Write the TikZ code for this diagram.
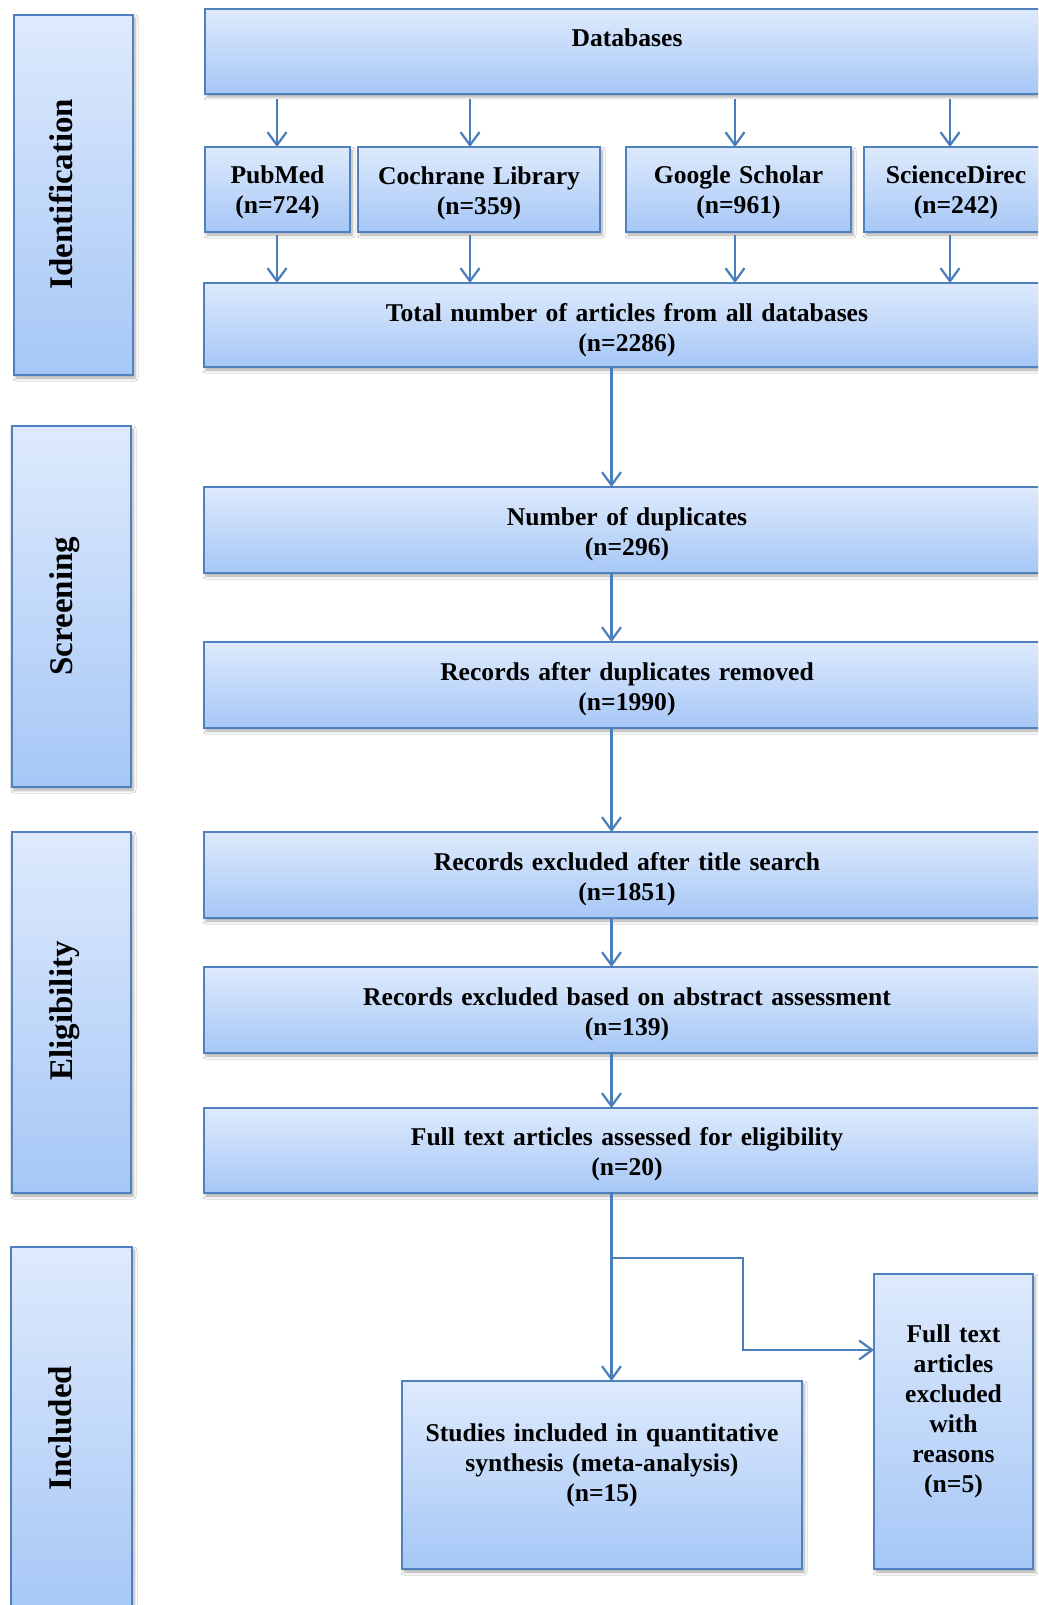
\documentclass[tikz,border=0pt]{standalone}
\usepackage{fontspec}
\setmainfont{Liberation Serif}
\usetikzlibrary{arrows.meta,shadows.blur}
\definecolor{bordc}{RGB}{79,129,189}
\definecolor{arrc}{RGB}{74,126,187}
\definecolor{topc}{RGB}{222,234,252}
\definecolor{botc}{RGB}{166,199,246}
\tikzset{
  box/.style={rectangle, draw=bordc, line width=2pt, top color=topc, bottom color=botc,
    inner sep=0pt, outer sep=0pt,
    blur shadow={shadow xshift=2pt, shadow yshift=-3pt, shadow blur radius=3pt, shadow opacity=35, shadow blur steps=6}},
  txt/.style={anchor=base, inner sep=0pt, align=center, text width=700pt,
    font=\fontsize{25.6}{30}\selectfont\bfseries},
  lbl/.style={anchor=base, inner sep=0pt, rotate=90, font=\fontsize{33}{36}\selectfont\bfseries},
  arr/.style={draw=arrc, line width=2.2pt, -{Straight Barb[length=13pt,width=19pt]}},
}
\begin{document}
\begin{tikzpicture}[x=1pt,y=-1pt]
\useasboundingbox (0,0) rectangle (1038,1605);
\clip (0,0) rectangle (1038,1605);
\fill[white] (0,0) rectangle (1038,1605);
% stage boxes
\node[box, minimum width=119pt, minimum height=360pt] (lid) at (73.5,195) {};
\node[box, minimum width=119pt, minimum height=361pt] (lsc) at (71.5,606.5) {};
\node[box, minimum width=119pt, minimum height=361pt] (lel) at (71.5,1012.5) {};
\node[box, minimum width=121pt, minimum height=373pt] (lin) at (71.5,1433.5) {};
\node[lbl] (tid) at (72,194) {Identification};
\node[lbl] (tsc) at (72,606) {Screening};
\node[lbl] (tel) at (72,1011) {Eligibility};
\node[lbl] (tin) at (71,1428) {Included};
% flow boxes
\node[box, minimum width=844pt, minimum height=85pt] (db) at (627,51.5) {};
\node[box, minimum width=145pt, minimum height=85pt] (pm) at (277.5,189.5) {};
\node[box, minimum width=242pt, minimum height=85pt] (co) at (479,189.5) {};
\node[box, minimum width=225pt, minimum height=85pt] (gs) at (738.5,189.5) {};
\node[box, minimum width=184pt, minimum height=85pt] (sd) at (956,189.5) {};
\node[box, minimum width=846pt, minimum height=84pt] (tot) at (627,325) {};
\node[box, minimum width=846pt, minimum height=86pt] (dup) at (627,530) {};
\node[box, minimum width=846pt, minimum height=86pt] (rec) at (627,685) {};
\node[box, minimum width=846pt, minimum height=86pt] (tit) at (627,875) {};
\node[box, minimum width=846pt, minimum height=86pt] (abs) at (627,1010) {};
\node[box, minimum width=846pt, minimum height=85pt] (fta) at (627,1150.5) {};
\node[box, minimum width=400pt, minimum height=188pt] (stu) at (602,1475) {};
\node[box, minimum width=159pt, minimum height=295pt] (exc) at (953.5,1421.5) {};
% texts
\node[txt] (tdb) at (627,47) {Databases};
\node[txt] (tpm) at (277.5,184) {PubMed\\(n=724)};
\node[txt] (tco) at (479,185) {Cochrane Library\\(n=359)};
\node[txt] (tgs) at (738.5,184) {Google Scholar\\(n=961)};
\node[txt] (tsd) at (956,184) {ScienceDirec\\(n=242)};
\node[txt] (ttot) at (627,321) {Total number of articles from all databases\\(n=2286)};
\node[txt] (tdup) at (627,525) {Number of duplicates\\(n=296)};
\node[txt] (trec) at (627,680) {Records after duplicates removed\\(n=1990)};
\node[txt] (ttit) at (627,870) {Records excluded after title search\\(n=1851)};
\node[txt] (tabs) at (627,1005) {Records excluded based on abstract assessment\\(n=139)};
\node[txt] (tfta) at (627,1145) {Full text articles assessed for eligibility\\(n=20)};
\node[txt] (tstu) at (602,1441) {Studies included in quantitative\\synthesis (meta-analysis)\\(n=15)};
\node[txt] (texc) at (953.5,1342) {Full text\\articles\\excluded\\with\\reasons\\(n=5)};
% connector columns
\coordinate (xp) at (277,0);
\coordinate (xc) at (470,0);
\coordinate (xg) at (735,0);
\coordinate (xs) at (950,0);
\coordinate (sp) at (611.5,0);
\draw[arr, shorten <=5pt] (db.south -| xp) -- (pm.north -| xp);
\draw[arr, shorten <=5pt] (db.south -| xc) -- (co.north -| xc);
\draw[arr, shorten <=5pt] (db.south -| xg) -- (gs.north -| xg);
\draw[arr, shorten <=5pt] (db.south -| xs) -- (sd.north -| xs);
\draw[arr, shorten <=3pt] (pm.south -| xp) -- (tot.north -| xp);
\draw[arr, shorten <=3pt] (co.south -| xc) -- (tot.north -| xc);
\draw[arr, shorten <=3pt] (gs.south -| xg) -- (tot.north -| xg);
\draw[arr, shorten <=3pt] (sd.south -| xs) -- (tot.north -| xs);
\draw[arr] (tot.south -| sp) -- (dup.north -| sp);
\draw[arr] (dup.south -| sp) -- (rec.north -| sp);
\draw[arr] (rec.south -| sp) -- (tit.north -| sp);
\draw[arr] (tit.south -| sp) -- (abs.north -| sp);
\draw[arr] (abs.south -| sp) -- (fta.north -| sp);
\draw[arr] (fta.south -| sp) -- (stu.north -| sp);
\coordinate (bj) at (611.5,1258);
\coordinate (bk) at (743,1350);
\draw[arr] (bj) -| (bk) -- (bk -| exc.west);
\end{tikzpicture}
\end{document}
